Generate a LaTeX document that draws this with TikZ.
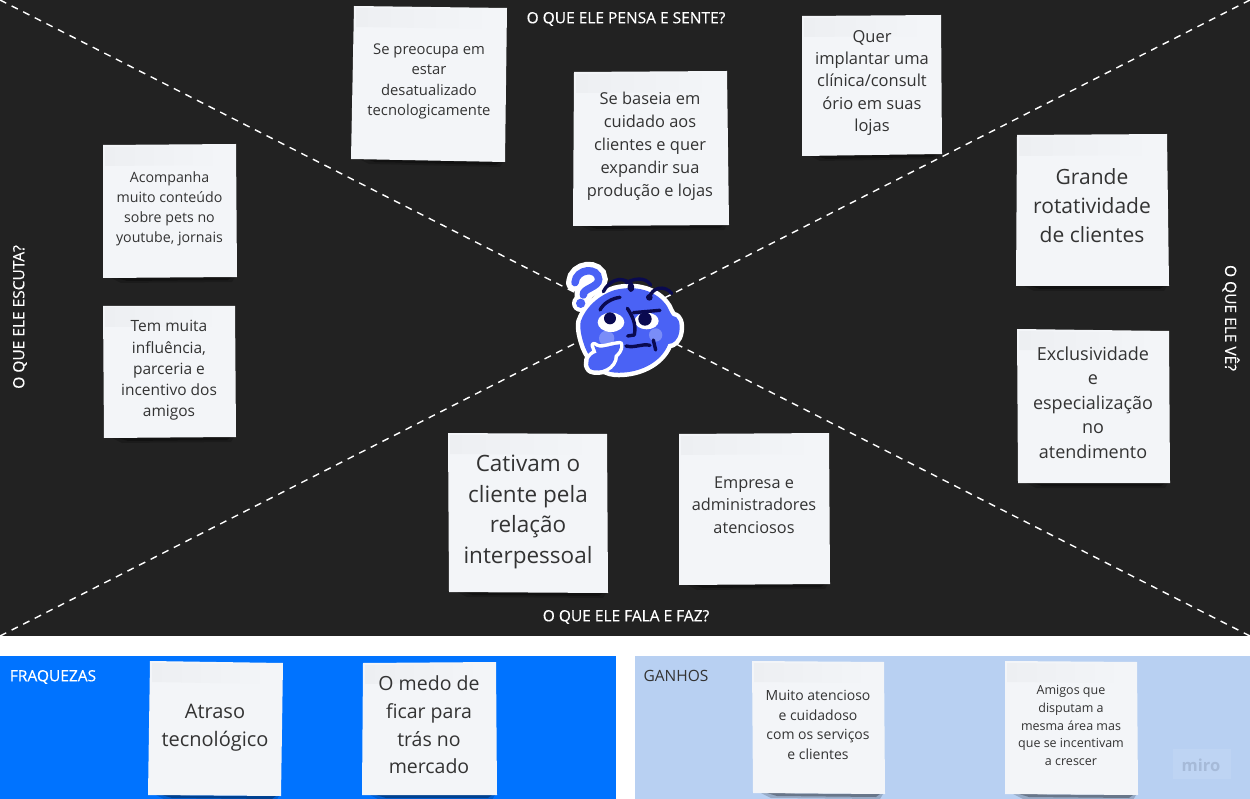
\documentclass[tikz,border=0pt]{standalone}
\usepackage{fontspec}
\setmainfont{Open Sans}
\newfontfamily\headfont[FakeBold=0.35]{Open Sans}
\usetikzlibrary{calc}
\definecolor{panel}{HTML}{222222}
\definecolor{bluepanel}{HTML}{0073FF}
\definecolor{lightpanel}{HTML}{B8D0F2}
\definecolor{note}{HTML}{F3F5F8}
\definecolor{notetop}{HTML}{EDEFF2}
\definecolor{notetext}{HTML}{333333}
\definecolor{faceblue}{HTML}{4A62F5}
\definecolor{faceink}{HTML}{0A0A50}
\definecolor{facecheek}{HTML}{7A8DF8}
\definecolor{marktext}{HTML}{A6BAD8}
\tikzset{
  diag/.style={white,line width=1.4pt,dash pattern=on 7pt off 6pt},
  heading/.style={white,inner sep=0pt,font=\fontsize{15.5}{18}\headfont\selectfont},
  ink/.style={faceink,line width=3.4pt,line cap=round,line join=round},
}
% #1 name, #2-#5 corners, #6 size, #7 leading, #8 centre, #9 text
\newcommand\sticky[9]{%
  \fill[black,opacity=.18] ($(#5)+(8,0)$) -- ($(#4)+(-2,0)$) -- ($(#4)+(-5,5)$) -- ($(#5)+(18,5)$) -- cycle;
  \fill[black,opacity=.3] ($(#5)+(14,0)$) -- ($(#4)+(-5,0)$) -- ($(#4)+(-9,3)$) -- ($(#5)+(24,3)$) -- cycle;
  \fill[note] (#2) -- (#3) -- (#4) -- (#5) -- cycle;
  \shade[left color=notetop,right color=note,shading angle=90] ($(#2)+(2,2)$) -- ($(#3)+(-14,2)$) -- ($(#3)+(-14,21)$) -- ($(#2)+(2,21)$) -- cycle;
  \node[text=notetext,align=center,inner sep=0pt,font=\fontsize{#6}{#7}\selectfont] (#1) at (#8) {#9};
}
\begin{document}
\begin{tikzpicture}[x=1pt,y=-1pt]
\useasboundingbox (0,0) rectangle (1250,799);
\fill[white] (0,0) rectangle (1250,799);
\fill[panel] (0,0) rectangle (1250,636);
\fill[bluepanel] (0,656) rectangle (616,799);
\fill[lightpanel] (635,656) rectangle (1250,799);

% diagonals
\coordinate (tl) at (0,0);
\coordinate (tr) at (1250,0);
\coordinate (bl) at (0,636);
\coordinate (br) at (1250,636);
\coordinate (hub) at (625,318);
\draw[diag] (tl) -- (hub);
\draw[diag] (tr) -- (hub);
\draw[diag] (bl) -- (hub);
\draw[diag] (br) -- (hub);

% headings
\node[heading] (think) at (626,19) {O QUE ELE PENSA E SENTE?};
\node[heading] (say) at (626,617) {O QUE ELE FALA E FAZ?};
\node[heading,rotate=90] (hear) at (20,317) {O QUE ELE ESCUTA?};
\node[heading,rotate=-90] (see) at (1231,318) {O QUE ELE VÊ?};
\node[heading] (weak) at (53,677) {FRAQUEZAS};
\node[heading,text=notetext,font=\fontsize{15.5}{18}\selectfont] (gain) at (676,676) {GANHOS};

% notes
\sticky{n1}{354,6}{507,8}{505,162}{351,159}{14.8}{20.4}{429,81.5}{Se preocupa em\\estar\\desatualizado\\tecnologicamente}
\sticky{n2}{574,72}{727,71}{729,225}{573,226}{16.4}{23}{650,146}{Se baseia em\\cuidado aos\\clientes e quer\\expandir sua\\produção e lojas}
\sticky{n3}{802,16}{941,15}{942,154}{802,156}{16.5}{22.2}{872,83}{Quer\\implantar uma\\clínica/consult\\ório em suas\\lojas}
\sticky{n4}{1017,135}{1167,134}{1169,286}{1016,286}{21}{29}{1092,205.5}{Grande\\rotatividade\\de clientes}
\sticky{n5}{1017,329}{1169,331}{1170,483}{1018,483}{18}{24.5}{1093,402.5}{Exclusividade\\e\\especialização\\no\\atendimento}
\sticky{n6}{679,434}{829,433}{830,584}{679,585}{16.3}{22.5}{754,505}{Empresa e\\administradores\\atenciosos}
\sticky{n7}{448,433}{607,434}{608,593}{449,592}{22.5}{30.7}{528,512}{Cativam o\\cliente pela\\relação\\interpessoal}
\sticky{n8}{103,145}{236,144}{237,277}{103,278}{14.2}{20}{169.5,209}{Acompanha\\muito conteúdo\\sobre pets no\\youtube, jornais}
\sticky{n9}{103,306}{235,306}{236,437}{104,438}{15.5}{21.2}{169,370.5}{Tem muita\\influência,\\parceria e\\incentivo dos\\amigos}
\sticky{n10}{150,661}{283,663}{281,796}{148,795}{20}{28}{215,728}{Atraso\\tecnológico}
\sticky{n11}{363,663}{496,662}{497,795}{362,795}{19.5}{27.7}{429,725}{O medo de\\ficar para\\trás no\\mercado}
\sticky{n12}{752,661}{884,662}{885,794}{753,793}{14}{19.8}{818,725}{Muito atencioso\\e cuidadoso\\com os serviços\\e clientes}
\sticky{n13}{1005,661}{1137,662}{1138,795}{1005,794}{12.5}{17.8}{1071,725.5}{Amigos que\\disputam a\\mesma área mas\\que se incentivam\\a crescer}

% miro mark
\fill[white,opacity=.09] (1173,749) rectangle (1231,779);
\node[text=marktext,inner sep=0pt,font=\fontsize{16.5}{18}\bfseries\selectfont] (mark) at (1201,765) {miro};

% face, drawn in the coordinates of a 3x enlargement
\begin{scope}[shift={(540,240)},x=.3333pt,y=-.3333pt]
  \def\headpath{(122,245) .. controls (135,205) and (175,165) .. (225,150) .. controls (285,135) and (350,150) .. (382,200) .. controls (388,212) and (392,222) .. (398,228) .. controls (415,228) and (422,250) .. (418,275) .. controls (414,300) and (400,312) .. (385,312) .. controls (362,372) and (290,402) .. (225,398) .. controls (185,395) and (150,360) .. (135,322) .. controls (125,295) and (118,265) .. (122,245) -- cycle}
  \def\handpath{(162,316) .. controls (182,332) and (205,316) .. (240,313) .. controls (242,330) and (230,340) .. (224,346) .. controls (224,382) and (180,400) .. (152,388) .. controls (136,372) and (146,345) .. (170,338) -- cycle}
  \def\askpath{(105,128) .. controls (108,85) and (175,80) .. (176,118) .. controls (176,142) and (128,145) .. (130,165)}
  % white outline
  \draw[white,line width=9pt,line join=round] \headpath;
  \draw[white,line width=9pt,line join=round] \handpath;
  \draw[white,line width=18pt,line cap=round] \askpath;
  \fill[white] (122,190) circle (26);
  % blue fill
  \fill[faceblue] \headpath;
  \draw[faceblue,line width=7.5pt,line cap=round] \askpath;
  \fill[faceblue] (122,190) circle (14);
  % cheeks
  \fill[facecheek] (200,295) circle (23);
  \fill[facecheek] (347,285) circle (20);
  % hand over the head
  \draw[white,line width=7pt,line join=round] \handpath;
  \fill[faceblue] \handpath;
  % eyes
  \fill[white] (213,247) ellipse (40 and 29);
  \fill[white] (320,243) ellipse (36 and 25);
  \fill[faceink] (210,235) circle (18);
  \fill[faceink] (315,237) circle (20);
  % brows, nose, mouth
  \draw[ink] (180,210) .. controls (190,190) and (215,175) .. (240,172);
  \draw[ink] (280,218) -- (360,211);
  \draw[ink] (262,205) .. controls (275,225) and (290,250) .. (283,285) -- (263,288);
  \draw[ink] (258,318) .. controls (285,325) and (305,310) .. (330,316);
  \draw[ink] (340,300) -- (347,330);
  % hair
  \draw[ink] (190,155) .. controls (205,125) and (240,105) .. (270,130);
  \draw[ink] (258,128) .. controls (285,115) and (315,110) .. (332,135);
  \draw[ink] (273,130) .. controls (255,155) and (290,160) .. (273,130);
  \draw[ink] (328,175) .. controls (335,140) and (375,135) .. (395,160);
  \fill[faceink] (328,172) circle (10);
\end{scope}
\node[inner sep=0pt,minimum size=1pt] (face) at (hub) {};
\end{tikzpicture}
\end{document}
